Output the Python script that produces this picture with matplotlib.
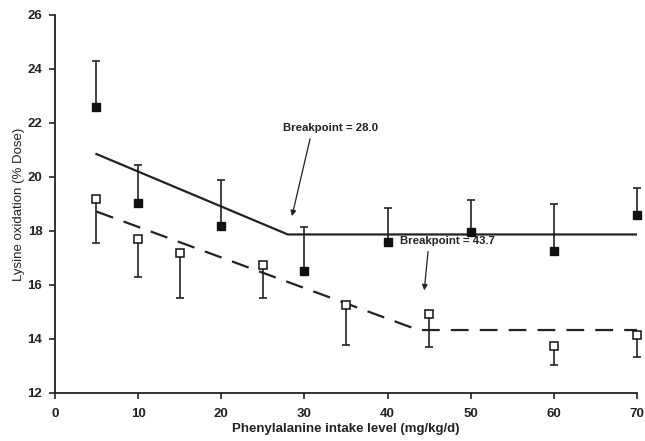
import matplotlib
matplotlib.use('Agg')
import matplotlib.pyplot as plt
import numpy as np

plt.rcParams['font.family'] = ['Liberation Sans', 'DejaVu Sans']

# filled squares (upper series)
x_fill = [5, 10, 20, 30, 40, 50, 60, 70]
y_fill = [22.6, 19.05, 18.2, 16.5, 17.6, 17.95, 17.25, 18.6]
up_fill = [1.7, 1.4, 1.7, 1.65, 1.25, 1.2, 1.75, 1.0]

# open squares (lower series)
x_open = [5, 10, 15, 25, 35, 45, 60, 70]
y_open = [19.2, 17.7, 17.2, 16.75, 15.25, 14.92, 13.75, 14.15]
dn_open = [1.65, 1.4, 1.7, 1.22, 1.48, 1.22, 0.7, 0.82]

# fitted lines
fit_fill_x = [5, 28.0, 70]
fit_fill_y = [20.85, 17.87, 17.87]
fit_open_x = [5, 43.7, 70]
fit_open_y = [18.72, 14.33, 14.33]

fig = plt.figure(figsize=(6.45, 4.41), dpi=100)
ax = fig.add_axes([0.085, 0.109, 0.903, 0.857])

c = '#222222'
ax.plot(fit_fill_x, fit_fill_y, color=c, lw=1.6)
ax.plot(fit_open_x, fit_open_y, color=c, lw=1.6, dashes=(8, 5))

# one-sided error bars: stem + single cap
yf = np.array(y_fill); uf = np.array(up_fill)
ax.vlines(x_fill, yf, yf + uf, color=c, lw=1.2, clip_on=False)
ax.plot(x_fill, yf + uf, ls='none', marker='_', ms=5.5, mew=1.2, color=c, clip_on=False)
yo = np.array(y_open); do = np.array(dn_open)
ax.vlines(x_open, yo - do, yo, color=c, lw=1.2, clip_on=False)
ax.plot(x_open, yo - do, ls='none', marker='_', ms=5.5, mew=1.2, color=c, clip_on=False)

ax.plot(x_fill, y_fill, ls='none', marker='s', ms=5.5, mfc='#111111', mec='#111111',
        clip_on=False, zorder=4)
ax.plot(x_open, y_open, ls='none', marker='s', ms=5.5, mfc='white', mec='#111111',
        mew=1.1, clip_on=False, zorder=4)

ax.annotate('Breakpoint = 28.0', xy=(28.5, 18.55), xytext=(27.4, 21.8),
            fontsize=8.2, fontweight='bold', color=c, va='center',
            arrowprops=dict(arrowstyle='-|>', color=c, lw=0.9,
                            shrinkA=2, shrinkB=0, mutation_scale=8,
                            relpos=(0.3, 0)),
            annotation_clip=False)
ax.annotate('Breakpoint = 43.7', xy=(44.4, 15.8), xytext=(41.5, 17.63),
            fontsize=8.2, fontweight='bold', color=c, va='center',
            arrowprops=dict(arrowstyle='-|>', color=c, lw=0.9,
                            shrinkA=2, shrinkB=0, mutation_scale=8,
                            relpos=(0.3, 0)),
            annotation_clip=False)

ax.set_xlim(0, 70)
ax.set_ylim(12, 26)
ax.set_xticks(range(0, 71, 10))
ax.set_yticks(range(12, 27, 2))
ax.spines['top'].set_visible(False)
ax.spines['right'].set_visible(False)
for s in ['left', 'bottom']:
    ax.spines[s].set_linewidth(1.3)
    ax.spines[s].set_color(c)
ax.tick_params(direction='out', length=4, width=1.2, labelsize=9.5, colors=c)
ax.tick_params(axis='x', pad=7)
ax.tick_params(axis='y', pad=5)
for lab in ax.get_xticklabels() + ax.get_yticklabels():
    lab.set_fontweight('bold')
ax.set_xlabel('Phenylalanine intake level (mg/kg/d)', fontsize=9.5, fontweight='bold',
              color=c, labelpad=2)
ax.set_ylabel('Lysine oxidation (% Dose)', fontsize=9.5, color=c, labelpad=2)

fig.savefig('out.png', dpi=100)
